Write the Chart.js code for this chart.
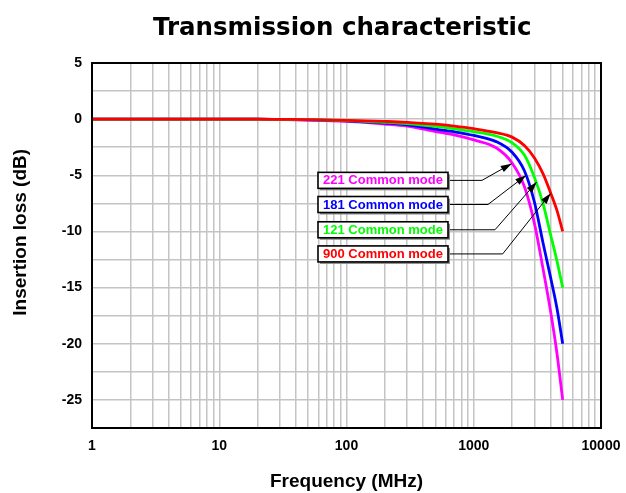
<!DOCTYPE html>
<html>
<head>
<meta charset="utf-8">
<script src="https://cdn.jsdelivr.net/npm/chart.js@4.4.1/dist/chart.umd.min.js"></script>
<style>
  html, body { margin: 0; padding: 0; background: #ffffff; }
  #wrap { width: 626px; height: 493px; }
</style>
</head>
<body>
<div id="wrap"><canvas id="c" width="626" height="493"></canvas></div>
<script>
// ---- Data ----
const freqMHz = [1, 10, 20, 30, 50, 100, 200, 300, 500, 700, 1000, 1500, 2000, 2500, 3000, 3500, 4000, 4500, 5000];
const loss900 = [0, 0, 0, -0.02, -0.04, -0.1, -0.2, -0.28, -0.45, -0.62, -0.85, -1.2, -1.6, -2.35, -3.45, -4.85, -6.5, -8.1, -10];
const loss121 = [0, 0, 0, -0.02, -0.05, -0.13, -0.28, -0.4, -0.65, -0.86, -1.12, -1.5, -2.1, -3.2, -5.2, -7.5, -10.2, -12.6, -15];
const loss181 = [0, 0, 0, -0.02, -0.06, -0.16, -0.35, -0.5, -0.88, -1.12, -1.45, -2.0, -2.95, -4.6, -7.4, -11.0, -14.0, -16.8, -20];
const loss221 = [0, 0, 0, -0.03, -0.08, -0.2, -0.43, -0.62, -1.1, -1.4, -1.85, -2.55, -3.9, -6.0, -9.3, -13.3, -17.0, -20.8, -25];
const seriesNames = ['900 Common mode', '121 Common mode', '181 Common mode', '221 Common mode'];
const seriesColors = ['#ff0000', '#00ff00', '#0000ff', '#ff00ff'];
const xTickDecades = [1, 10, 100, 1000, 10000];
const yTickLabels = [5, 0, -5, -10, -15, -20, -25];

// ---- Callout labels (data coordinates) ----
const calloutText  = ['221 Common mode', '181 Common mode', '121 Common mode', '900 Common mode'];
const calloutColor = ['#ff00ff', '#0000ff', '#00ff00', '#ff0000'];
const calloutBoxDb = [-5.45, -7.6, -9.85, -12.0];
const calloutElbowFreq = [1161, 1294, 1469, 1688];
const calloutTipFreq = [1986, 2580, 3124, 4027];
const calloutTipDb = [-3.96, -5.0, -5.6, -6.6];
const calloutBoxLeftFreq = 59.7;

const seriesValues = [loss900, loss121, loss181, loss221];

const datasets = seriesValues.map((vals, i) => ({
  label: seriesNames[i],
  data: freqMHz.map((f, j) => ({ x: f, y: vals[j] })),
  borderColor: seriesColors[i],
  backgroundColor: seriesColors[i],
  borderWidth: 2.8,
  pointRadius: 0,
  cubicInterpolationMode: 'monotone',
  fill: false
}));

Chart.defaults.font.family = "'Liberation Sans', Arial, sans-serif";
Chart.defaults.color = '#000';

const frameAndCallouts = {
  id: 'frameAndCallouts',
  afterDatasetsDraw(chart) {
    const { ctx, chartArea, scales } = chart;
    const xs = scales.x, ys = scales.y;
    ctx.save();
    ctx.font = "bold 13px 'Liberation Sans', Arial, sans-serif";
    ctx.textBaseline = 'middle';
    ctx.textAlign = 'center';
    const boxLeft = xs.getPixelForValue(calloutBoxLeftFreq);
    const boxW = 130, boxH = 16;
    for (let i = 0; i < calloutText.length; i++) {
      const cy = ys.getPixelForValue(calloutBoxDb[i]);
      const ex = xs.getPixelForValue(calloutElbowFreq[i]);
      const tx = xs.getPixelForValue(calloutTipFreq[i]);
      const ty = ys.getPixelForValue(calloutTipDb[i]);
      ctx.strokeStyle = '#000';
      ctx.lineWidth = 1;
      ctx.beginPath();
      ctx.moveTo(boxLeft + boxW, cy);
      ctx.lineTo(ex, cy);
      ctx.lineTo(tx, ty);
      ctx.stroke();
      const ang = Math.atan2(ty - cy, tx - ex);
      const L = 11, W = 3.5;
      ctx.fillStyle = '#000';
      ctx.beginPath();
      ctx.moveTo(tx, ty);
      ctx.lineTo(tx - L * Math.cos(ang) + W * Math.sin(ang), ty - L * Math.sin(ang) - W * Math.cos(ang));
      ctx.lineTo(tx - L * Math.cos(ang) - W * Math.sin(ang), ty - L * Math.sin(ang) + W * Math.cos(ang));
      ctx.closePath();
      ctx.fill();
      ctx.fillStyle = '#8a8a8a';
      ctx.fillRect(boxLeft + 2, cy - boxH / 2 + 2, boxW, boxH);
      ctx.fillStyle = '#fff';
      ctx.fillRect(boxLeft, cy - boxH / 2, boxW, boxH);
      ctx.lineWidth = 1.6;
      ctx.strokeStyle = '#000';
      ctx.strokeRect(boxLeft, cy - boxH / 2, boxW, boxH);
      ctx.fillStyle = calloutColor[i];
      ctx.fillText(calloutText[i], boxLeft + boxW / 2, cy + 0.5);
    }
    ctx.strokeStyle = '#000';
    ctx.lineWidth = 2;
    ctx.strokeRect(chartArea.left, chartArea.top, chartArea.right - chartArea.left, chartArea.bottom - chartArea.top);
    ctx.restore();
  }
};

new Chart(document.getElementById('c'), {
  type: 'line',
  data: { datasets },
  plugins: [frameAndCallouts],
  options: {
    responsive: false,
    animation: false,
    layout: { padding: { left: 0, right: 25, top: 0, bottom: 0 } },
    plugins: {
      legend: { display: false },
      tooltip: { enabled: false },
      title: {
        display: true,
        text: 'Transmission characteristic ',
        fullSize: false,
        color: '#000',
        font: { family: "'DejaVu Sans', Verdana, sans-serif", size: 24.5, weight: 'bold' },
        padding: { top: 14, bottom: 19.6 }
      }
    },
    scales: {
      x: {
        type: 'logarithmic',
        min: 1,
        max: 10000,
        afterBuildTicks(scale) {
          const t = [];
          for (let d = 0; d < xTickDecades.length - 1; d++) {
            for (let m = 1; m <= 9; m++) t.push({ value: xTickDecades[d] * m });
          }
          t.push({ value: xTickDecades[xTickDecades.length - 1] });
          scale.ticks = t;
        },
        afterFit(scale) { scale.height = 65; scale.paddingLeft = 0; scale.paddingRight = 0; },
        grid: { color: '#c4c4c4', lineWidth: 1.5, drawTicks: false },
        border: { display: false },
        ticks: {
          autoSkip: false,
          maxRotation: 0,
          minRotation: 0,
          padding: 10,
          font: { size: 14, weight: 'bold' },
          callback(v) { return xTickDecades.includes(v) ? String(v) : ''; }
        },
        title: {
          display: true,
          text: 'Frequency (MHz)',
          font: { size: 19, weight: 'bold' },
          padding: { top: 0, bottom: 0 }
        }
      },
      y: {
        min: -27.5,
        max: 5,
        afterBuildTicks(scale) {
          const t = [];
          for (let v = 5; v >= -27.5; v -= 2.5) t.push({ value: v });
          scale.ticks = t;
        },
        afterFit(scale) { scale.width = 92; scale.paddingTop = 0; scale.paddingBottom = 0; },
        grid: { color: '#c4c4c4', lineWidth: 1.5, drawTicks: false },
        border: { display: false },
        ticks: {
          padding: 10,
          font: { size: 14, weight: 'bold' },
          callback(v) { return yTickLabels.includes(v) ? String(v) : ''; }
        },
        title: {
          display: true,
          text: '     Insertion loss (dB)',
          font: { size: 19, weight: 'bold' },
          padding: { top: 9, bottom: 0 }
        }
      }
    }
  }
});
</script>
</body>
</html>
